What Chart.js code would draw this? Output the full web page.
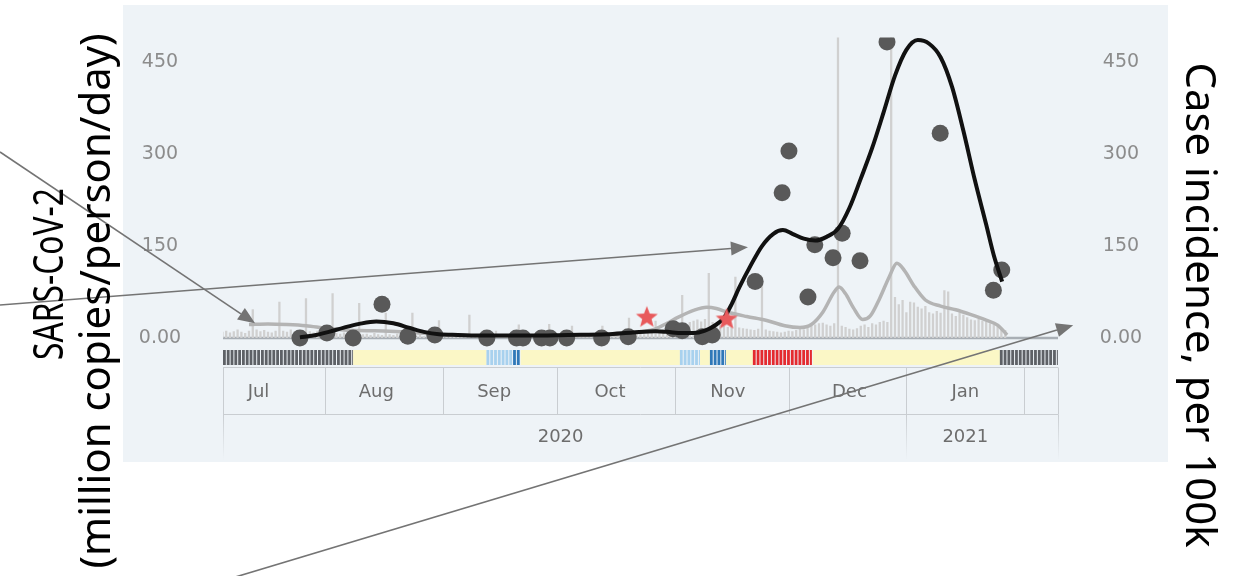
<!DOCTYPE html>
<html>
<head>
<meta charset="utf-8">
<script src="https://cdn.jsdelivr.net/npm/chart.js@4.4.1/dist/chart.umd.min.js"></script>
<style>
html,body{margin:0;padding:0;background:#ffffff;}
#wrap{width:1234px;height:576px;position:relative;}
canvas{display:block;}
</style>
</head>
<body>
<div id="wrap"><canvas id="c" width="1234" height="576"></canvas></div>
<script>
// ---------- DATA (day index: 0 = 1 Jul 2020) ----------
const monthLabels = ['Jul','Aug','Sep','Oct','Nov','Dec','Jan'];
const monthStartDays = [0,31,62,92,123,153,184,215];
const monthLabelDays = [13.5,44.5,75.5,106,137,169,199.5];
const yearLabels = ['2020','2021'];
const yearLabelDays = [93,199.5];
const yearBoundaryDays = [184];
const yTicks = [0,150,300,450];

// daily case incidence bars (per 100k), starting at day 4
const caseStartDay = 4;
const caseValues = [
 10,12,9,11,14,10,8,
 12,47,14,11,13,10,9,12,59,12,10,14,11,9,13,65,11,9,12,10,
 8,9,73,8,7,9,6,7,8,57,6,7,5,8,6,5,41,6,5,7,4,5,6,41,4,5,3,4,5,3,29,
 3,2,3,4,2,3,2,38,2,3,2,1,2,3,12,2,1,2,3,2,22,2,1,3,2,2,1,3,23,2,
 3,2,2,3,20,3,2,4,3,2,4,3,20,4,5,3,6,5,4,33,6,7,8,6,9,10,28,12,14,16,18,
 20,22,70,24,26,28,30,27,31,106,26,24,22,20,18,19,100,17,16,15,14,13,15,100,14,12,11,10,9,10,
 12,11,13,15,14,18,20,22,24,25,22,20,24,600,20,18,15,14,16,20,22,18,24,22,26,28,26,600,67,55,62,
 42,59,58,51,48,52,42,40,44,41,78,76,40,36,42,38,34,30,29,31,28,27,24,22,20,16,13
];

// smoothed case incidence (grey line)
const caseSmoothDays = [11,16,21,26,31,36,42,48,54,60,67,75,85,95,105,110,114,118,121,124,128,131.5,134,137,142,147,152,156,159,162,165,166.3,168,170,172.5,174.5,177,179.5,181.5,183.5,186,189,193,197,201,205,208,210.5];
const caseSmoothValues = [22,23,22,20,16,13,12,11,9,6,4,3,2,3,5,6,10,15,24,34,45,50,48,42,35,29,20,17,22,42,75,83,72,50,30,36,65,100,122,110,85,62,52,46,38,29,21,5];

// smoothed wastewater SARS-CoV-2 (black line)
const wwSmoothDays = [24.4,28,32,36,40,44.5,49,53,57,61,66,73,85,95,105,112,118,121,125,128,131,133.5,136,138,140,143,146,149,151.5,154,157,160,163,166,169,172,175,178,181,184,187,190,193,196,199,202,205,207,209.2];
const wwSmoothValues = [1,4,10,17,23,27,24,17,10,6,5,4,4,5,6,9,11,10,8,8,12,20,33,55,82,118,150,170,176,170,162,159,165,178,212,260,310,368,428,470,486,480,458,410,338,258,185,135,92];

// wastewater measurements (dots)
const wwDays = [24.4,31.5,38.4,46,52.8,59.9,73.6,81.4,83.1,88,90.2,94.6,103.8,110.8,122.6,125,130.3,132.9,144.2,151.3,153.1,158.1,159.9,164.7,167.1,171.8,178.9,192.9,206.9,209.1];
const wwValues = [0,8,0,55,3,5,0,0,0,0,0,0,0,2,15,12,2,5,92,237,305,67,152,131,171,126,483,334,78,111];

// events (red stars)
const starDays = [115.7,136.7];
const starValues = [35,32];

// status strip (start day, end day, category)
const stripStart = [4.16,38.4,73.5,80.5,82.5,124.4,129.7,132.3,136.5,143.6,159.4,208.6];
const stripEnd   = [38.4,73.5,80.5,82.5,124.4,129.7,132.3,136.5,143.6,159.4,208.6,223.9];
const stripType  = ['none','low','mid','high','low','mid','low','high','low','peak','low','none'];

// annotation arrow tips [day, value]
const arrowTips = [[12.6,24],[142.3,148],[227.9,21]];

// ---------- STYLE / LAYOUT ----------
const X_MIN = 4.16, X_MAX = 223.9, Y_MAX = 490;
const stripColors = {none:'#5e6166', low:'#fbf7c6', mid:'#a8d1ee', high:'#2f78b8', peak:'#e42a2f'};
const tickFamily = 'DejaVu Sans';
const tickSize = 19;
const mctx = document.createElement('canvas').getContext('2d');
mctx.font = tickSize + 'px ' + tickFamily;
const tickText = v => v === 0 ? '0.00' : String(v);
const wTick = Math.max(...yTicks.map(v => mctx.measureText(tickText(v)).width));
const tickPad = Math.max(0, 63 - wTick/2 - 8);

const starImg = (() => {
  const c = document.createElement('canvas'); c.width = 24; c.height = 24;
  const g = c.getContext('2d'); g.fillStyle = '#e85a5c'; g.beginPath();
  for (let i = 0; i < 10; i++) {
    const r = i % 2 === 0 ? 11.5 : 4.9;
    const a = -Math.PI/2 + i*Math.PI/5;
    const px = 12 + r*Math.cos(a), py = 13 + r*Math.sin(a);
    if (i) g.lineTo(px,py); else g.moveTo(px,py);
  }
  g.closePath(); g.fill(); return c;
})();

const bgPlugin = {
  id: 'panelBg',
  beforeDraw(chart) {
    const ctx = chart.ctx; ctx.save();
    ctx.fillStyle = '#ffffff'; ctx.fillRect(0,0,chart.width,chart.height);
    ctx.fillStyle = '#eef3f7'; ctx.fillRect(123,5,1045,457);
    ctx.restore();
  },
  beforeDatasetsDraw(chart) {
    const ctx = chart.ctx, ca = chart.chartArea, y0 = chart.scales.y.getPixelForValue(0);
    ctx.save(); ctx.strokeStyle = '#a9afb5'; ctx.lineWidth = 2.5;
    ctx.beginPath(); ctx.moveTo(ca.left, y0); ctx.lineTo(ca.right, y0); ctx.stroke(); ctx.restore();
  }
};

const tablePlugin = {
  id: 'timeTable',
  afterDraw(chart) {
    const ctx = chart.ctx, xs = chart.scales.x, ca = chart.chartArea;
    const X = d => xs.getPixelForValue(d);
    ctx.save();
    const sTop = 350, sH = 15;
    stripStart.forEach((s, i) => {
      const e = stripEnd[i], t = stripType[i];
      ctx.fillStyle = stripColors[t];
      if (t === 'low') {
        ctx.fillRect(X(s), sTop, X(e) - X(s), sH);
      } else {
        for (let d = s; d < e - 0.05; d += 1) {
          const x0 = X(d), x1 = X(Math.min(d + 1, e));
          ctx.fillRect(x0, sTop, Math.max(x1 - x0 - 1, 1), sH);
        }
      }
    });
    ctx.strokeStyle = '#c9cdd1'; ctx.lineWidth = 1;
    const rowTop = 367.5, rowMid = 414.5, rowBot = 460;
    ctx.beginPath();
    ctx.moveTo(ca.left, rowTop); ctx.lineTo(ca.right, rowTop);
    ctx.moveTo(ca.left, rowMid); ctx.lineTo(ca.right, rowMid);
    const seps = [X_MIN].concat(monthStartDays.filter(d => d > X_MIN && d < X_MAX)).concat([X_MAX]);
    seps.forEach(d => { const x = Math.round(X(d)) + 0.5; ctx.moveTo(x, rowTop); ctx.lineTo(x, rowMid); });
    ctx.stroke();
    const ysep = [X_MIN].concat(yearBoundaryDays).concat([X_MAX]);
    ysep.forEach(d => {
      const x = Math.round(X(d)) + 0.5;
      const g = ctx.createLinearGradient(0, rowMid, 0, rowBot);
      g.addColorStop(0, '#c9cdd1'); g.addColorStop(1, 'rgba(201,205,209,0)');
      ctx.strokeStyle = g; ctx.beginPath(); ctx.moveTo(x, rowMid); ctx.lineTo(x, rowBot); ctx.stroke();
    });
    ctx.textAlign = 'center'; ctx.textBaseline = 'middle';
    ctx.font = '18px ' + tickFamily; ctx.fillStyle = '#6d6d6d';
    monthLabels.forEach((m, i) => ctx.fillText(m, X(monthLabelDays[i]), 392));
    yearLabels.forEach((y, i) => ctx.fillText(y, X(yearLabelDays[i]), 437));
    ctx.restore();
  }
};

function drawArrow(ctx, x0, y0, x1, y1) {
  const ang = Math.atan2(y1 - y0, x1 - x0), L = 17, W = 7;
  const bx = x1 - L*Math.cos(ang), by = y1 - L*Math.sin(ang);
  ctx.beginPath(); ctx.moveTo(x0, y0); ctx.lineTo(bx, by); ctx.stroke();
  ctx.beginPath(); ctx.moveTo(x1, y1);
  ctx.lineTo(bx + W*Math.sin(ang), by - W*Math.cos(ang));
  ctx.lineTo(bx - W*Math.sin(ang), by + W*Math.cos(ang));
  ctx.closePath(); ctx.fill();
}

const overlayPlugin = {
  id: 'overlay',
  afterDraw(chart) {
    const ctx = chart.ctx, xs = chart.scales.x, ys = chart.scales.y;
    ctx.save();
    ctx.strokeStyle = '#747474'; ctx.fillStyle = '#747474'; ctx.lineWidth = 1.6;
    const tails = [[0,152],[0,305],[232,578]];
    arrowTips.forEach((t, i) => drawArrow(ctx, tails[i][0], tails[i][1], xs.getPixelForValue(t[0]), ys.getPixelForValue(t[1])));
    const fam = '"Noto Sans"';
    ctx.font = '100px ' + fam;
    const l2 = '(million copies/person/day)', rt = 'Case incidence, per 100k', l1 = 'SARS-CoV-2';
    const s2 = 100 * 542 / ctx.measureText(l2).width;
    const s3 = 100 * 480 / ctx.measureText(rt).width;
    const fs = (s2 + s3) / 2;
    ctx.font = fs.toFixed(1) + 'px ' + fam;
    ctx.fillStyle = '#000000'; ctx.textAlign = 'center'; ctx.textBaseline = 'alphabetic';
    const w1 = ctx.measureText(l1).width;
    const k1 = Math.min(1, 172 / w1);
    ctx.save(); ctx.translate(63, 274); ctx.rotate(-Math.PI/2); ctx.scale(k1, 1); ctx.fillText(l1, 0, 0); ctx.restore();
    ctx.save(); ctx.translate(110, 301); ctx.rotate(-Math.PI/2); ctx.fillText(l2, 0, 0); ctx.restore();
    ctx.save(); ctx.translate(1186, 305); ctx.rotate(Math.PI/2); ctx.fillText(rt, 0, 0); ctx.restore();
    ctx.restore();
  }
};

const yAxisCommon = {
  min: 0, max: Y_MAX,
  afterBuildTicks: s => { s.ticks = yTicks.map(v => ({value: v})); },
  grid: {display: false}, border: {display: false},
  ticks: {crossAlign: 'center', padding: tickPad, color: '#8c8c8c', font: {family: tickFamily, size: tickSize}, callback: v => tickText(v)}
};

new Chart(document.getElementById('c'), {
  type: 'bar',
  data: {
    datasets: [
      {type: 'line', label: 'Events', data: starDays.map((d, i) => ({x: d, y: starValues[i]})),
       showLine: false, pointStyle: starImg, pointRadius: 12, yAxisID: 'y', order: 0, clip: false},
      {type: 'line', label: 'SARS-CoV-2 (smoothed)', data: wwSmoothDays.map((d, i) => ({x: d, y: wwSmoothValues[i]})),
       borderColor: '#111111', borderWidth: 4, pointRadius: 0, cubicInterpolationMode: 'monotone', fill: false,
       yAxisID: 'y', order: 1, clip: {left: 10, right: 10, top: 0, bottom: 20}},
      {type: 'scatter', label: 'SARS-CoV-2', data: wwDays.map((d, i) => ({x: d, y: wwValues[i]})),
       backgroundColor: '#595959', borderWidth: 0, pointRadius: 8.5, yAxisID: 'y', order: 2,
       clip: {left: 10, right: 10, top: 0, bottom: 20}},
      {type: 'line', label: 'Case incidence (smoothed)', data: caseSmoothDays.map((d, i) => ({x: d, y: caseSmoothValues[i]})),
       borderColor: '#b4b4b4', borderWidth: 3.5, pointRadius: 0, cubicInterpolationMode: 'monotone', fill: false,
       yAxisID: 'y2', order: 3},
      {type: 'bar', label: 'Case incidence', data: caseValues.map((v, i) => ({x: caseStartDay + i, y: v})),
       backgroundColor: '#d0d0d0', borderWidth: 0, barPercentage: 0.6, categoryPercentage: 1, yAxisID: 'y2', order: 4}
    ]
  },
  options: {
    responsive: false, animation: false, events: [],
    layout: {padding: {left: 123, right: 66, top: 37.6, bottom: 238}},
    plugins: {legend: {display: false}, tooltip: {enabled: false}, title: {display: false}},
    scales: {
      x: {type: 'linear', min: X_MIN, max: X_MAX, display: false, offset: false},
      y: Object.assign({position: 'left', afterFit: s => { s.width = 100; s.paddingTop = 0; s.paddingBottom = 0; }}, yAxisCommon),
      y2: Object.assign({position: 'right', afterFit: s => { s.width = 110; s.paddingTop = 0; s.paddingBottom = 0; }}, yAxisCommon)
    }
  },
  plugins: [bgPlugin, tablePlugin, overlayPlugin]
});
</script>
</body>
</html>
